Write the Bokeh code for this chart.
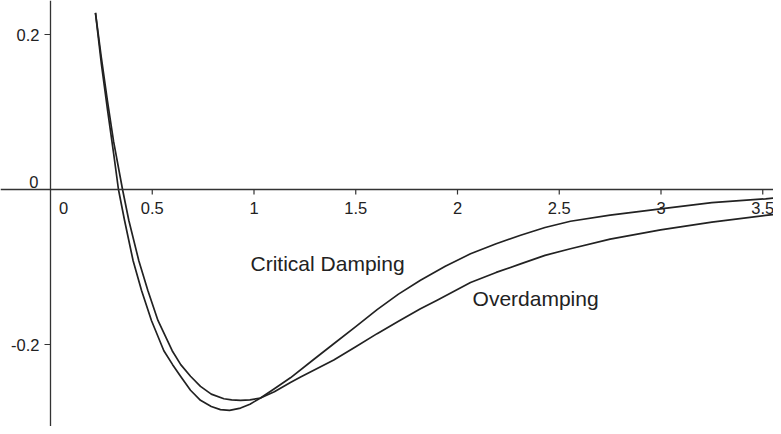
from bokeh.plotting import figure
from bokeh.models import Range1d, Span, Label
from bokeh.core.properties import value
from bokeh.embed import file_html
from bokeh.resources import INLINE

# Critical damping curve
crit_x = [0.221, 0.25, 0.28, 0.31, 0.334, 0.364, 0.406, 0.447, 0.496, 0.557, 0.60, 0.639, 0.688,
          0.737, 0.79, 0.835, 0.88, 0.934, 0.98, 1.032, 1.10, 1.179, 1.29, 1.392, 1.50, 1.605, 1.71,
          1.818, 1.94, 2.064, 2.19, 2.31, 2.43, 2.555, 2.75, 2.998, 3.25, 3.514, 3.592]
crit_y = [0.228, 0.162, 0.103, 0.047, 0.0, -0.040, -0.092, -0.130, -0.169, -0.208, -0.226, -0.241, -0.259,
          -0.272, -0.280, -0.284, -0.285, -0.282, -0.277, -0.269, -0.257, -0.243, -0.220, -0.199, -0.177, -0.155, -0.135,
          -0.117, -0.099, -0.083, -0.070, -0.059, -0.049, -0.041, -0.033, -0.025, -0.017, -0.012, -0.010]

# Overdamping curve
over_x = [0.221, 0.25, 0.28, 0.31, 0.354, 0.385, 0.434, 0.478, 0.528, 0.598, 0.64, 0.688, 0.737,
          0.79, 0.852, 0.89, 0.934, 0.98, 1.032, 1.10, 1.179, 1.229, 1.392, 1.50, 1.605, 1.71, 1.818,
          1.90, 2.064, 2.19, 2.31, 2.43, 2.555, 2.75, 2.998, 3.25, 3.514, 3.592]
over_y = [0.228, 0.170, 0.114, 0.062, 0.0, -0.040, -0.092, -0.130, -0.169, -0.208, -0.226, -0.241, -0.254,
          -0.264, -0.270, -0.2715, -0.272, -0.2715, -0.269, -0.261, -0.249, -0.242, -0.220, -0.203, -0.186, -0.170, -0.154,
          -0.143, -0.120, -0.107, -0.096, -0.085, -0.0765, -0.064, -0.052, -0.042, -0.0335, -0.031]

xticks = [0.5, 1, 1.5, 2, 2.5, 3, 3.5]
xtick_labels = ["0.5", "1", "1.5", "2", "2.5", "3", "3.5"]
yticks = [-0.2, 0.2]
ytick_labels = ["-0.2", "0.2"]

W, H = 773, 426
kx = 203.5   # px per x unit
ky = 775.0   # px per y unit
X0 = -50 / kx
X1 = X0 + W / kx
Y1 = 189 / ky
Y0 = Y1 - H / ky

FONT_NAME = "Liberation Sans"
FONT = value(FONT_NAME)
INK = "#222222"
AX = "#333333"

p = figure(width=W, height=H, x_range=Range1d(X0, X1), y_range=Range1d(Y0, Y1),
           output_backend="svg", toolbar_location=None, x_axis_type=None, y_axis_type=None,
           min_border=0)
p.outline_line_color = None
p.background_fill_color = "white"

# axes lines
p.add_layout(Span(location=0, dimension="width", line_color=AX, line_width=1.3))
p.add_layout(Span(location=0, dimension="height", line_color=AX, line_width=1.3))

# tick marks
p.segment(x0=xticks, y0=[0] * len(xticks), x1=xticks, y1=[-5 / ky] * len(xticks),
          line_color=AX, line_width=1.2)
p.segment(x0=[-6 / kx] * len(yticks), y0=yticks, x1=[0] * len(yticks), y1=yticks,
          line_color=AX, line_width=1.2)

# tick labels
TS = "16.5px"
p.text(x=xticks, y=[-18 / ky] * len(xticks), text=xtick_labels, text_align="center",
       text_baseline="middle", text_font=FONT, text_font_size=TS, text_color=INK)
p.text(x=[-11 / kx] * len(yticks), y=yticks, text=ytick_labels, text_align="right",
       text_baseline="middle", text_font=FONT, text_font_size=TS, text_color=INK)
p.text(x=[13 / kx], y=[-18 / ky], text=["0"], text_align="center",
       text_baseline="middle", text_font=FONT, text_font_size=TS, text_color=INK)
p.text(x=[-12 / kx], y=[8 / ky], text=["0"], text_align="right",
       text_baseline="middle", text_font=FONT, text_font_size=TS, text_color=INK)

# curves
p.line(crit_x, crit_y, line_color=INK, line_width=1.7, line_join="round")
p.line(over_x, over_y, line_color=INK, line_width=1.7, line_join="round")

# annotations
p.add_layout(Label(x=0.983, y=-0.0955, text="Critical Damping", text_baseline="middle",
                   text_font=FONT_NAME, text_font_size="21px", text_color=INK))
p.add_layout(Label(x=2.074, y=-0.1406, text="Overdamping", text_baseline="middle",
                   text_font=FONT_NAME, text_font_size="21px", text_color=INK))

open("out.html", "w").write(file_html(p, INLINE))
